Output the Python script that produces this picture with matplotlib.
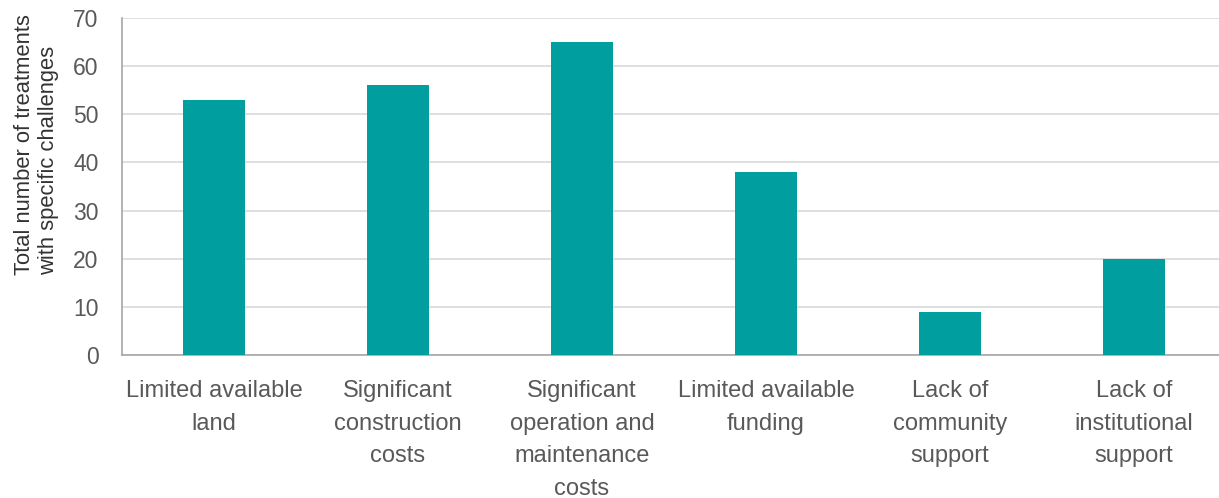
import numpy as np
import matplotlib
matplotlib.use("Agg")
import matplotlib.pyplot as plt

plt.rcParams['font.family'] = ['Liberation Sans', 'DejaVu Sans']

# data
categories = ["Limited available\nland",
              "Significant\nconstruction\ncosts",
              "Significant\noperation and\nmaintenance\ncosts",
              "Limited available\nfunding",
              "Lack of\ncommunity\nsupport",
              "Lack of\ninstitutional\nsupport"]
counts = [53, 56, 65, 38, 9, 20]
yticks = [0, 10, 20, 30, 40, 50, 60, 70]

text_col = "#595959"
bar_col = "#009E9E"

fig = plt.figure(figsize=(12.19, 4.98), dpi=100)
ax = fig.add_axes([122 / 1219, 1 - 355 / 498, 1 - 122 / 1219, (355 - 18) / 498])

x = np.arange(len(categories))
ax.bar(x, counts, width=0.34, color=bar_col, zorder=3)

ax.set_ylim(0, 70)
ax.set_xlim(-0.5, len(categories) - 0.5 - 7 / 184)
ax.set_yticks(yticks)
ax.yaxis.grid(True, color="#D9D9D9", linewidth=1.2, zorder=0)

ax.set_xticks(x)
ax.set_xticklabels(categories, fontsize=17, color=text_col, linespacing=1.63, va="top")
ax.tick_params(axis="x", length=0, pad=18)
ax.tick_params(axis="y", length=0, pad=17, labelsize=16.5, labelcolor=text_col)

for s in ["top", "right"]:
    ax.spines[s].set_visible(False)
for s in ["left", "bottom"]:
    ax.spines[s].set_color("#A6A6A6")
    ax.spines[s].set_linewidth(1.2)

ax.set_ylabel("Total number of treatments\nwith specific challenges", fontsize=15.8,
              color="#333333", linespacing=1.2, multialignment="left")
ax.yaxis.set_label_coords(-0.057, 0.623)

fig.savefig("out.png", dpi=100)
